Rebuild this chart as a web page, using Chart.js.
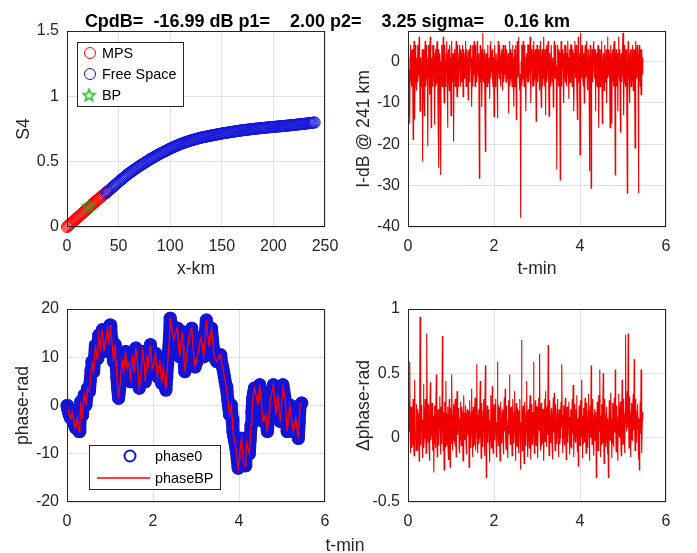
<!DOCTYPE html>
<html><head><meta charset="utf-8">
<script src="https://cdn.jsdelivr.net/npm/chart.js@4/dist/chart.umd.min.js"></script>
<style>
html,body{margin:0;padding:0;background:#fff;}
#wrap{position:relative;width:697px;height:553px;overflow:hidden;font-family:"Liberation Sans",Arial,sans-serif;}
canvas{position:absolute;left:0;top:0;}
#title{position:absolute;left:0;width:655px;top:11px;line-height:20px;text-align:center;font-weight:bold;font-size:18px;white-space:pre;color:#000;}
#tlabel{position:absolute;left:295px;width:100px;top:535px;line-height:20px;text-align:center;font-size:17.6px;color:#262626;}
</style></head><body>
<div id="wrap">
<canvas id="c1" width="697" height="553"></canvas>
<canvas id="c2" width="697" height="553"></canvas>
<canvas id="c3" width="697" height="553"></canvas>
<canvas id="c4" width="697" height="553"></canvas>
<div id="title">CpdB=  -16.99 dB p1=    2.00 p2=    3.25 sigma=    0.16 km</div>
<div id="tlabel">t-min</div>
</div>
<script>
// ---------- data ----------
const xKmTicks = [0,50,100,150,200,250];
const s4Ticks = [0,0.5,1,1.5];
const tTicks = [0,2,4,6];
const iDbTicks = [-40,-30,-20,-10,0];
const phaseTicks = [-20,-10,0,10,20];
const dPhaseTicks = [-0.5,0,0.5,1];

const mpsX = [0,1,2,3,4,5,6,7,8,9,10,11,12,13,14,15,16,17,18,19,20,21,22,23,24,25,26,27,28,29,30,31,32,33,34,35,36,37,38,39,40];
const mpsS4 = [0,0.007,0.014,0.021,0.028,0.035,0.042,0.049,0.056,0.063,0.070,0.077,0.084,0.091,0.098,0.105,0.112,0.119,0.126,0.133,
0.141,0.148,0.155,0.162,0.169,0.176,0.183,0.190,0.197,0.204,0.211,0.217,0.224,0.230,0.237,0.243,0.250,0.256,0.262,0.269,0.275];
const fsX = [38,39,40,41,42,43,44,45,46,47,48,49,50,51,52,53,54,55,56,57,
58,59,60,61,62,63,64,65,66,67,68,69,70,71,72,73,74,75,76,77,
78,79,80,81,82,83,84,85,86,87,88,89,90,91,92,93,94,95,96,97,
98,99,100,101,102,103,104,105,106,107,108,109,110,111,112,113,114,115,116,117,
118,119,120,121,122,123,124,125,126,127,128,129,130,131,132,133,134,135,136,137,
138,139,140,141,142,143,144,145,146,147,148,149,150,151,152,153,154,155,156,157,
158,159,160,161,162,163,164,165,166,167,168,169,170,171,172,173,174,175,176,177,
178,179,180,181,182,183,184,185,186,187,188,189,190,191,192,193,194,195,196,197,
198,199,200,201,202,203,204,205,206,207,208,209,210,211,212,213,214,215,216,217,
218,219,220,221,222,223,224,225,226,227,228,229,230,231,232,233,234,235,236,237,
238,239,240];
const fsS4 = [0.261,0.268,0.275,0.282,0.289,0.296,0.303,0.310,0.317,0.324,0.331,0.338,0.345,0.352,0.358,0.365,0.371,0.378,0.384,0.391,
0.397,0.404,0.410,0.416,0.421,0.427,0.432,0.438,0.443,0.449,0.454,0.460,0.465,0.470,0.475,0.480,0.485,0.490,0.495,0.500,
0.505,0.510,0.515,0.520,0.524,0.529,0.533,0.538,0.542,0.547,0.551,0.556,0.560,0.564,0.568,0.572,0.576,0.580,0.584,0.588,
0.592,0.596,0.600,0.604,0.607,0.611,0.614,0.618,0.621,0.625,0.628,0.632,0.635,0.638,0.640,0.643,0.646,0.649,0.651,0.654,
0.657,0.660,0.662,0.664,0.666,0.669,0.671,0.673,0.675,0.678,0.680,0.682,0.684,0.686,0.687,0.689,0.690,0.692,0.694,0.696,
0.697,0.699,0.700,0.702,0.703,0.705,0.706,0.708,0.709,0.711,0.712,0.714,0.715,0.717,0.718,0.719,0.720,0.722,0.723,0.724,
0.725,0.727,0.728,0.729,0.730,0.732,0.733,0.734,0.735,0.737,0.738,0.739,0.740,0.741,0.742,0.743,0.744,0.745,0.746,0.747,
0.748,0.749,0.750,0.751,0.752,0.753,0.753,0.754,0.755,0.756,0.756,0.757,0.758,0.759,0.760,0.761,0.761,0.762,0.763,0.764,
0.764,0.765,0.766,0.767,0.767,0.768,0.769,0.770,0.770,0.771,0.772,0.773,0.773,0.774,0.775,0.776,0.776,0.777,0.778,0.779,
0.779,0.780,0.781,0.782,0.783,0.784,0.785,0.786,0.786,0.787,0.788,0.789,0.790,0.791,0.792,0.793,0.794,0.795,0.796,0.797,
0.798,0.799,0.800];
const bpX = [21];
const bpS4 = [0.16];

// phase samples (every 0.02 min)
const tMin = [0,0.02,0.04,0.06,0.08,0.1,0.12,0.14,0.16,0.18,
0.2,0.22,0.24,0.26,0.28,0.3,0.32,0.34,0.36,0.38,
0.4,0.42,0.44,0.46,0.48,0.5,0.52,0.54,0.56,0.58,
0.6,0.62,0.64,0.66,0.68,0.7,0.72,0.74,0.76,0.78,
0.8,0.82,0.84,0.86,0.88,0.9,0.92,0.94,0.96,0.98,
1,1.02,1.04,1.06,1.08,1.1,1.12,1.14,1.16,1.18,
1.2,1.22,1.24,1.26,1.28,1.3,1.32,1.34,1.36,1.38,
1.4,1.42,1.44,1.46,1.48,1.5,1.52,1.54,1.56,1.58,
1.6,1.62,1.64,1.66,1.68,1.7,1.72,1.74,1.76,1.78,
1.8,1.82,1.84,1.86,1.88,1.9,1.92,1.94,1.96,1.98,
2,2.02,2.04,2.06,2.08,2.1,2.12,2.14,2.16,2.18,
2.2,2.22,2.24,2.26,2.28,2.3,2.32,2.34,2.36,2.38,
2.4,2.42,2.44,2.46,2.48,2.5,2.52,2.54,2.56,2.58,
2.6,2.62,2.64,2.66,2.68,2.7,2.72,2.74,2.76,2.78,
2.8,2.82,2.84,2.86,2.88,2.9,2.92,2.94,2.96,2.98,
3,3.02,3.04,3.06,3.08,3.1,3.12,3.14,3.16,3.18,
3.2,3.22,3.24,3.26,3.28,3.3,3.32,3.34,3.36,3.38,
3.4,3.42,3.44,3.46,3.48,3.5,3.52,3.54,3.56,3.58,
3.6,3.62,3.64,3.66,3.68,3.7,3.72,3.74,3.76,3.78,
3.8,3.82,3.84,3.86,3.88,3.9,3.92,3.94,3.96,3.98,
4,4.02,4.04,4.06,4.08,4.1,4.12,4.14,4.16,4.18,
4.2,4.22,4.24,4.26,4.28,4.3,4.32,4.34,4.36,4.38,
4.4,4.42,4.44,4.46,4.48,4.5,4.52,4.54,4.56,4.58,
4.6,4.62,4.64,4.66,4.68,4.7,4.72,4.74,4.76,4.78,
4.8,4.82,4.84,4.86,4.88,4.9,4.92,4.94,4.96,4.98,
5,5.02,5.04,5.06,5.08,5.1,5.12,5.14,5.16,5.18,
5.2,5.22,5.24,5.26,5.28,5.3,5.32,5.34,5.36,5.38,
5.4,5.42,5.44,5.46];

const phase0 = [0,-0.8,-1.5,-2.1,-2.6,-1.9,-1.3,-2.4,-3.5,-4.2,
-4.7,-3.6,-2.6,-4.1,-5.4,-3.5,0.8,-0.6,-2,0.1,
2.2,1.1,0.1,1.9,3.6,3.3,2.9,5.1,7.4,9.1,
8,7,9.8,12.5,11.1,9.7,12.2,14.6,13.2,11.9,
13.8,15.7,13.4,11.2,12.3,13.2,14.8,16,14.2,12.6,
16.7,15.2,13.9,11.5,9.1,10.9,12.6,9.1,5.7,3.4,
1.5,3.2,4.9,7.1,9.1,8,7,9.2,11.2,9.4,
7.7,8.5,9.1,7,4.9,7.8,10.5,8.7,7,9.5,
11.9,10.1,8.4,6,3.6,5,6.4,8.8,11.2,9.8,
8.4,4.9,7.7,10.5,9.4,8.4,10.5,12.6,10.1,7.7,
8.4,9.1,10,10.8,8.3,6,7.2,8.3,9.4,7,
4.6,6.3,8,6.4,4.8,3.2,6,8.7,11.2,13.6,
18.1,16.8,15.4,14.5,13.6,14.2,14.8,15.4,16,14,
12,10.1,11.8,13.6,15.3,12.5,9.7,7,8.5,10,
11.5,12.9,14.4,15.2,15.6,16,13.5,11,9.5,8,
8.9,9.8,10.6,11.4,12.6,13.4,14.1,12.8,11.4,10.1,
12.6,15.2,17.7,15.9,14,12.2,13.4,14.7,16,14,
12,10.1,9.8,9.5,9.1,9.5,9.9,10.2,10.5,9.6,
8.7,7.9,7,6,4.9,3.9,2.9,1.3,-0.3,-1.9,
-0.9,0.1,-2.7,-5.4,-6.4,-7.4,-8.5,-9.5,-11.3,-13,
-11.2,-9.5,-8.1,-6.8,-9.2,-11.6,-12,-12.5,-10.1,-7.7,
-8.5,-9.3,-10,-7,-4,-1.3,1.5,2.6,3.6,2.8,
2,1,0.1,2.2,4.3,2.4,0.5,-1.4,-3.3,-2.9,
-2.4,-2,-3.7,-5.4,-3.3,-1.2,0.8,1.7,2.5,3.4,
4.3,2.2,0.1,-1.9,0.1,2.2,0.4,-1.5,-3.3,-0.8,
1.7,4.3,3.1,2,0.8,-2.3,-5.4,-3.5,-1.7,0.1,
-1.3,-2.7,-4.1,-5.4,-4.5,-3.5,-2.6,-4,-5.4,-6.8,
-3.4,0.1,0.3,0.5];
const phaseBP = phase0.slice();

// intensity / delta-phase samples (every 0.01 min)
const tFine = [0,0.01,0.02,0.03,0.04,0.05,0.06,0.07,0.08,0.09,0.1,0.11,0.12,0.13,0.14,0.15,0.16,0.17,0.18,0.19,
0.2,0.21,0.22,0.23,0.24,0.25,0.26,0.27,0.28,0.29,0.3,0.31,0.32,0.33,0.34,0.35,0.36,0.37,0.38,0.39,
0.4,0.41,0.42,0.43,0.44,0.45,0.46,0.47,0.48,0.49,0.5,0.51,0.52,0.53,0.54,0.55,0.56,0.57,0.58,0.59,
0.6,0.61,0.62,0.63,0.64,0.65,0.66,0.67,0.68,0.69,0.7,0.71,0.72,0.73,0.74,0.75,0.76,0.77,0.78,0.79,
0.8,0.81,0.82,0.83,0.84,0.85,0.86,0.87,0.88,0.89,0.9,0.91,0.92,0.93,0.94,0.95,0.96,0.97,0.98,0.99,
1,1.01,1.02,1.03,1.04,1.05,1.06,1.07,1.08,1.09,1.1,1.11,1.12,1.13,1.14,1.15,1.16,1.17,1.18,1.19,
1.2,1.21,1.22,1.23,1.24,1.25,1.26,1.27,1.28,1.29,1.3,1.31,1.32,1.33,1.34,1.35,1.36,1.37,1.38,1.39,
1.4,1.41,1.42,1.43,1.44,1.45,1.46,1.47,1.48,1.49,1.5,1.51,1.52,1.53,1.54,1.55,1.56,1.57,1.58,1.59,
1.6,1.61,1.62,1.63,1.64,1.65,1.66,1.67,1.68,1.69,1.7,1.71,1.72,1.73,1.74,1.75,1.76,1.77,1.78,1.79,
1.8,1.81,1.82,1.83,1.84,1.85,1.86,1.87,1.88,1.89,1.9,1.91,1.92,1.93,1.94,1.95,1.96,1.97,1.98,1.99,
2,2.01,2.02,2.03,2.04,2.05,2.06,2.07,2.08,2.09,2.1,2.11,2.12,2.13,2.14,2.15,2.16,2.17,2.18,2.19,
2.2,2.21,2.22,2.23,2.24,2.25,2.26,2.27,2.28,2.29,2.3,2.31,2.32,2.33,2.34,2.35,2.36,2.37,2.38,2.39,
2.4,2.41,2.42,2.43,2.44,2.45,2.46,2.47,2.48,2.49,2.5,2.51,2.52,2.53,2.54,2.55,2.56,2.57,2.58,2.59,
2.6,2.61,2.62,2.63,2.64,2.65,2.66,2.67,2.68,2.69,2.7,2.71,2.72,2.73,2.74,2.75,2.76,2.77,2.78,2.79,
2.8,2.81,2.82,2.83,2.84,2.85,2.86,2.87,2.88,2.89,2.9,2.91,2.92,2.93,2.94,2.95,2.96,2.97,2.98,2.99,
3,3.01,3.02,3.03,3.04,3.05,3.06,3.07,3.08,3.09,3.1,3.11,3.12,3.13,3.14,3.15,3.16,3.17,3.18,3.19,
3.2,3.21,3.22,3.23,3.24,3.25,3.26,3.27,3.28,3.29,3.3,3.31,3.32,3.33,3.34,3.35,3.36,3.37,3.38,3.39,
3.4,3.41,3.42,3.43,3.44,3.45,3.46,3.47,3.48,3.49,3.5,3.51,3.52,3.53,3.54,3.55,3.56,3.57,3.58,3.59,
3.6,3.61,3.62,3.63,3.64,3.65,3.66,3.67,3.68,3.69,3.7,3.71,3.72,3.73,3.74,3.75,3.76,3.77,3.78,3.79,
3.8,3.81,3.82,3.83,3.84,3.85,3.86,3.87,3.88,3.89,3.9,3.91,3.92,3.93,3.94,3.95,3.96,3.97,3.98,3.99,
4,4.01,4.02,4.03,4.04,4.05,4.06,4.07,4.08,4.09,4.1,4.11,4.12,4.13,4.14,4.15,4.16,4.17,4.18,4.19,
4.2,4.21,4.22,4.23,4.24,4.25,4.26,4.27,4.28,4.29,4.3,4.31,4.32,4.33,4.34,4.35,4.36,4.37,4.38,4.39,
4.4,4.41,4.42,4.43,4.44,4.45,4.46,4.47,4.48,4.49,4.5,4.51,4.52,4.53,4.54,4.55,4.56,4.57,4.58,4.59,
4.6,4.61,4.62,4.63,4.64,4.65,4.66,4.67,4.68,4.69,4.7,4.71,4.72,4.73,4.74,4.75,4.76,4.77,4.78,4.79,
4.8,4.81,4.82,4.83,4.84,4.85,4.86,4.87,4.88,4.89,4.9,4.91,4.92,4.93,4.94,4.95,4.96,4.97,4.98,4.99,
5,5.01,5.02,5.03,5.04,5.05,5.06,5.07,5.08,5.09,5.1,5.11,5.12,5.13,5.14,5.15,5.16,5.17,5.18,5.19,
5.2,5.21,5.22,5.23,5.24,5.25,5.26,5.27,5.28,5.29,5.3,5.31,5.32,5.33,5.34,5.35,5.36,5.37,5.38,5.39,
5.4,5.41,5.42,5.43,5.44,5.45,5.46];

const iDb = [2,-3,-12.8,-2,-15,1,4,-4,-6,2,3,-5,-18.9,0,5,-3,-14,4,2,-6,
-7,1,4,-5,-3,3,6,-2,-12,0,1,-6,-5,3,-24.1,-1,3,-4,-13,2,
5,-6,-4,4,2,-3,-20.5,1,4,-2,-8,3,6,-5,-16,0,1,4,-6,-1,
4,-4,-15.3,2,3,-6,-5,4,5,-2,-14,3,-25.7,-3,2,-1,-27.4,0,4,-5,
-6,3,6,-3,-10,4,2,-6,-4,2,5,-4,-16,1,3,-5,-7,4,1,-2,
-13,5,4,-2,-5,2,-19.3,-4,2,3,-6,0,5,-5,-8.5,4,3,-6,-3,2,
4,-3,-6,3,2,-5,-4,4,-8.5,1,3,-4,-2,2,5,-6,-5,3,1,-3,
-9.3,2,3,-5,-4,4,2,-2,-10.9,1,4,-6,-3,3,5,-1,-6,4,2,-4,
-5,5,3,-3,-4,2,-28.2,-2,4,-5,-2,3,-11,1,7,-4,-5,2,3,-6,
-21.7,0,2,-3,-6,3,4,-5,-3,1,-9,4,5,-4,-2,2,3,-5,-6,1,
-13.3,3,4,-6,-3,2,2,-4,-13.7,0,5,-2,-4,4,1,-5,-6,2,3,-3,
-7,4,2,-5,-3,1,4,-2,-5,3,3,-4,-2,2,-12.5,-1,5,-6,-4,3,
2,-4,-6,2,4,-3,-10.9,1,3,-6,-5,4,-14,-2,5,-4,-3,3,6,-5,
-7,-3,-37.8,0,4,-6,-4,3,5,-2,-6,4,3,-5,-12,1,2,-3,-5,4,
4,-5,-3,2,6,-4,-10,3,2,-1,-6,4,5,-6,-4,2,3,-3,-14.4,0,
4,-2,-5,3,2,-4,-7,4,5,-3,-11,1,3,-6,-4,2,6,-2,-6,3,
-13,2,4,-5,-3,3,5,-4,-13.2,0,2,-3,-6,4,4,-5,-2,1,-11,-2,
5,-2,-4,4,3,-5,-26.1,-1,4,-3,-6,3,2,-4,-28.6,0,5,-6,-3,2,
3,-5,-10,2,4,-3,-5,4,2,-6,-3,3,5,-2,-9,1,3,-5,-4,4,
4,-3,-6,3,2,-5,-12,0,5,-2,-4,4,3,-6,-14,-1,6,-3,-5,2,
-22.5,2,7,-3,-4,4,3,-5,-6,2,-10,1,4,-4,-3,3,5,-6,-7,3,
2,-4,-26.5,0,4,-3,-30.6,-2,3,-5,-5,4,5,-2,-4,3,-12,-1,2,-5,
-6,2,4,-4,-16,1,3,-6,-5,3,5,-3,-15,0,2,-4,-7,3,4,-5,
-4,3,-10,1,6,-4,-3,3,2,-5,-16,0,4,-3,-15,2,3,-4,-6,4,
5,-5,-27.4,-1,3,-6,-4,2,-12,1,6,-3,-5,3,-17,0,2,-5,-3,4,
7,-2,-13,2,4,-5,-6,3,3,-4,-31.8,-1,5,-3,-4,2,-10,3,2,-6,
-5,3,4,-4,-7,2,3,-5,-20.9,0,5,-3,-4,4,2,-2,-31.8,1,4,-4,
-6,3,-8,2,3,-3,1];

const dPhase = [0.1,-0.06,0.28,0.05,0.59,0.12,-0.12,0.24,0.22,-0.08,-0.05,0.2,0.3,-0.02,-0.14,0.18,0.45,0.04,0.02,-0.1,
0.26,0.08,-0.1,0.22,0.18,0.0,-0.18,0.12,0.94,0.16,-0.06,0.25,0.24,-0.04,-0.16,0.14,0.42,-0.08,0.0,0.21,
0.3,0.02,-0.12,0.19,0.81,0.1,-0.04,0.26,0.2,-0.09,-0.18,0.14,0.43,-0.02,0.02,0.23,0.27,0.0,-0.1,0.17,
-0.27,0.06,0.25,-0.03,-0.08,0.21,0.49,0.08,-0.15,0.18,0.22,-0.06,0.0,0.15,0.32,0.03,-0.13,0.24,0.2,-0.05,
0.79,0.12,-0.1,0.2,-0.25,0.04,0.28,-0.07,0.44,0.1,-0.06,0.19,0.24,-0.03,-0.17,0.16,0.3,0.02,-0.23,0.22,
0.21,-0.05,0.49,0.07,-0.1,0.18,0.26,-0.02,-0.04,0.23,0.3,0.0,-0.15,0.13,0.36,0.05,0.02,0.2,0.23,-0.08,
-0.12,0.15,0.28,0.01,-0.06,0.24,0.2,-0.04,-0.18,0.12,0.33,0.06,-0.02,0.19,0.25,-0.07,-0.13,0.17,0.22,0.03,
0.02,0.21,-0.23,0.08,0.29,-0.02,-0.08,0.2,0.38,0.04,-0.15,0.16,0.24,-0.06,-0.05,0.22,0.31,0.0,-0.1,0.14,
0.57,0.06,-0.12,0.18,0.22,-0.05,0.0,0.23,0.44,0.03,-0.16,0.15,0.27,-0.03,-0.07,0.21,0.3,0.05,-0.14,0.19,
0.56,0.1,-0.31,0.0,0.25,0.07,-0.04,0.22,0.2,-0.06,-0.19,0.14,0.33,0.02,-0.08,0.2,0.4,-0.02,-0.12,0.16,
0.26,0.04,-0.02,0.19,0.3,-0.07,-0.15,0.12,0.59,0.08,-0.06,0.24,0.23,0.0,-0.18,0.15,0.28,-0.04,0.0,0.2,
0.22,-0.03,-0.13,0.17,0.31,0.05,0.38,0.0,-0.09,0.21,0.25,-0.06,-0.16,0.13,0.29,0.03,0.49,0.1,-0.05,0.22,
0.24,0.02,-0.14,0.18,0.3,-0.04,-0.02,0.2,0.36,0.06,-0.18,0.14,0.27,-0.05,-0.07,0.22,0.21,0.0,-0.12,0.16,
0.3,0.04,-0.25,0.12,0.76,0.08,-0.1,0.21,0.25,-0.03,-0.2,0.13,0.28,-0.06,-0.03,0.2,0.44,0.05,-0.15,0.18,
0.22,-0.02,-0.08,0.24,0.33,0.03,-0.17,0.15,0.26,-0.05,0.0,0.2,0.59,0.07,-0.12,0.17,0.29,0.0,-0.06,0.23,
0.24,0.01,-0.16,0.14,0.31,0.06,0.65,0.1,-0.1,0.19,0.27,-0.05,-0.04,0.22,0.22,0.0,-0.18,0.12,0.3,-0.03,
0.36,0.05,-0.07,0.2,0.25,0.02,0.72,0.11,-0.14,0.16,0.29,-0.04,-0.02,0.21,0.23,-0.06,-0.17,0.13,0.31,0.04,
0.35,0.07,-0.1,0.19,0.26,-0.03,-0.05,0.22,0.3,0.02,-0.15,0.15,0.22,-0.05,0.0,0.2,0.28,0.08,0.57,0.03,
-0.12,0.17,0.25,0.0,-0.06,0.21,0.31,0.04,-0.17,0.14,0.24,-0.04,-0.02,0.23,0.28,0.02,-0.13,0.16,0.22,-0.05,
-0.08,0.18,0.3,0.03,0.41,0.09,-0.15,0.2,0.26,-0.02,-0.04,0.22,0.33,0.05,-0.11,0.15,-0.22,0.1,0.25,-0.03,
-0.06,0.2,0.29,0.01,0.45,0.08,-0.16,0.17,0.23,-0.04,-0.03,0.24,0.31,0.03,-0.12,0.16,0.27,-0.02,-0.08,0.21,
0.34,0.06,-0.18,0.14,0.25,0.0,0.56,0.1,-0.05,0.23,0.3,-0.04,-0.14,0.18,0.22,-0.02,0.02,0.2,-0.31,0.08,
0.28,0.0,-0.1,0.21,0.33,0.05,0.53,0.1,-0.15,0.17,0.26,-0.05,-0.04,0.24,0.5,0.06,-0.2,0.13,0.3,-0.02,
-0.07,0.19,0.24,-0.03,-0.13,0.15,-0.31,0.05,0.29,0.0,-0.02,0.22,0.35,0.07,-0.16,0.14,0.27,-0.04,-0.06,0.23,
0.31,0.04,0.53,0.12,-0.11,0.2,0.25,-0.02,-0.18,0.16,0.34,0.03,0.0,0.22,0.28,-0.05,-0.14,0.18,0.45,0.06,
-0.05,0.21,0.3,0.02,-0.12,0.19,0.8,0.14,0.05,0.25,0.36,0.08,0.81,0.12,-0.08,0.22,0.32,0.04,-0.15,0.2,
0.27,-0.02,0.02,0.24,0.34,0.06,0.61,0.1,-0.1,0.18,0.3,-0.04,-0.04,0.21,0.26,0.0,-0.17,0.15,-0.25,0.09,
0.28,0.03,0.53,0.1,-0.12,0.15,0.2];

// ---------- style ----------
const FONT = "'Liberation Sans', Arial, Helvetica, sans-serif";
const AXC = '#262626', GRIDC = '#e0e0e0';
const RED = '#ff0000', LRED = '#f00000', BLUE = '#1414d8', GREEN = '#00b400';
Chart.defaults.font.family = FONT;

const pts = (xs, ys) => xs.map((x, i) => ({x: x, y: ys[i]}));

function makeStar(size, color){
  const c = document.createElement('canvas'); c.width = c.height = size;
  const g = c.getContext('2d');
  const cx = size/2, cy = size/2 + 0.6, R = size/2 - 1.2, r = R*0.4;
  g.beginPath();
  for (let k = 0; k < 10; k++){
    const ang = -Math.PI/2 + k*Math.PI/5, rr = (k % 2) ? r : R;
    g.lineTo(cx + rr*Math.cos(ang), cy + rr*Math.sin(ang));
  }
  g.closePath(); g.strokeStyle = color; g.lineWidth = 1.3; g.stroke();
  return c;
}
const starImg = makeStar(15, GREEN);

function axis(o){
  return {
    type:'linear', position:o.pos, min:o.min, max:o.max, bounds:'data',
    afterBuildTicks: s => { s.ticks = o.ticks.map(v => ({value:v})); },
    afterFit: s => { if (o.pos === 'left') s.width = o.size; else s.height = o.size; },
    grid:{color:GRIDC, lineWidth:1, drawTicks:false},
    border:{display:false},
    ticks:{color:AXC, font:{family:FONT, size:16}, padding:o.pad, autoSkip:false, maxRotation:0, callback: v => String(v)},
    title:{display:!!o.title, text:o.title || '', color:AXC, font:{family:FONT, size:17.6}, padding:0}
  };
}

const boxPlugin = {id:'axbox', afterDatasetsDraw(chart){
  const a = chart.chartArea, c = chart.ctx;
  c.save(); c.strokeStyle = AXC; c.lineWidth = 1;
  c.strokeRect(Math.round(a.left)+0.5, Math.round(a.top)+0.5, Math.round(a.right-a.left)-1, Math.round(a.bottom-a.top)-1);
  c.restore();
}};

function legendPlugin(L){ return {id:'lgd', afterDraw(chart){
  const c = chart.ctx; c.save();
  c.fillStyle = '#fff'; c.fillRect(L.x, L.y, L.w, L.h);
  c.strokeStyle = AXC; c.lineWidth = 1; c.strokeRect(L.x+0.5, L.y+0.5, L.w, L.h);
  c.font = '14.4px ' + FONT; c.textBaseline = 'middle'; c.textAlign = 'left';
  L.items.forEach(it => {
    const ds = chart.data.datasets[it.ds];
    c.strokeStyle = ds.pointBorderColor || ds.borderColor; c.lineWidth = it.lw;
    if (it.kind === 'circle'){ c.beginPath(); c.arc(it.mx, it.y, it.r, 0, Math.PI*2); c.stroke(); }
    else if (it.kind === 'star'){ c.drawImage(starImg, it.mx - starImg.width/2, it.y - starImg.height/2); }
    else { c.beginPath(); c.moveTo(it.x0, it.y); c.lineTo(it.x1, it.y); c.stroke(); }
    c.fillStyle = '#000'; c.fillText(ds.label, L.tx, it.y + 1);
  });
  c.restore();
}}; }

function base(pad){ return {responsive:false, animation:false, devicePixelRatio:1, events:[],
  layout:{padding:pad, autoPadding:true}, plugins:{legend:{display:false}, tooltip:{enabled:false}}}; }

function circ(color, r, w){ return {borderColor:color, backgroundColor:'rgba(0,0,0,0)', pointBorderColor:color,
  pointBackgroundColor:'rgba(0,0,0,0)', pointRadius:r, pointBorderWidth:w, borderWidth:w, pointStyle:'circle', clip:false}; }

// ---------- panel 1: S4 vs x-km ----------
new Chart(document.getElementById('c1'), {
  type:'scatter',
  data:{datasets:[
    Object.assign({label:'MPS', data:pts(mpsX, mpsS4), order:2}, circ(RED, 5.5, 1)),
    Object.assign({label:'Free Space', data:pts(fsX, fsS4), order:1}, circ(BLUE, 5.5, 1)),
    {label:'BP', data:pts(bpX, bpS4), order:0, borderColor:GREEN, pointStyle:starImg, pointRadius:7, clip:false}
  ]},
  options:Object.assign(base({left:14, top:31, right:372, bottom:273}), {scales:{
    x:axis({pos:'bottom', min:0, max:250, ticks:xKmTicks, size:53, pad:10, title:'x-km'}),
    y:axis({pos:'left', min:0, max:1.5, ticks:s4Ticks, size:53, pad:8, title:'S4'})
  }}),
  plugins:[boxPlugin, legendPlugin({x:77, y:42, w:106, h:64, tx:102, items:[
    {ds:0, kind:'circle', mx:90, y:53, r:5.5, lw:1},
    {ds:1, kind:'circle', mx:90, y:74, r:5.5, lw:1},
    {ds:2, kind:'star', mx:89, y:95, lw:1}
  ]})]
});

// ---------- panel 2: I-dB ----------
new Chart(document.getElementById('c2'), {
  type:'line',
  data:{datasets:[{label:'I-dB', data:pts(tFine, iDb), borderColor:LRED, borderWidth:1.1, pointRadius:0, tension:0, fill:false}]},
  options:Object.assign(base({left:354, top:31, right:31, bottom:273}), {scales:{
    x:axis({pos:'bottom', min:0, max:6, ticks:tTicks, size:53, pad:10, title:'t-min'}),
    y:axis({pos:'left', min:-40, max:7.4, ticks:iDbTicks, size:54, pad:8, title:'I-dB @ 241 km'})
  }}),
  plugins:[boxPlugin]
});

// ---------- panel 3: phase ----------
const phase0Style = Object.assign(circ(BLUE, 5.5, 2), {showLine:true, borderWidth:13, borderJoinStyle:'round', borderCapStyle:'round'});
new Chart(document.getElementById('c3'), {
  type:'line',
  data:{datasets:[
    Object.assign({label:'phase0', data:pts(tMin, phase0), order:1, tension:0, fill:false}, phase0Style),
    {label:'phaseBP', data:pts(tMin, phaseBP), borderColor:RED, borderWidth:1.3, pointRadius:0, tension:0, fill:false, order:0}
  ]},
  options:Object.assign(base({left:13, top:309, right:372, bottom:21}), {scales:{
    x:axis({pos:'bottom', min:0, max:6, ticks:tTicks, size:30, pad:10}),
    y:axis({pos:'left', min:-20, max:20, ticks:phaseTicks, size:54, pad:8, title:'phase-rad'})
  }}),
  plugins:[boxPlugin, legendPlugin({x:89, y:445, w:131, h:44, tx:155, items:[
    {ds:0, kind:'circle', mx:130, y:456, r:5.5, lw:2},
    {ds:1, kind:'line', x0:97, x1:150, y:478, lw:1.5}
  ]})]
});

// ---------- panel 4: delta phase ----------
new Chart(document.getElementById('c4'), {
  type:'line',
  data:{datasets:[{label:'\u0394phase', data:pts(tFine, dPhase), borderColor:LRED, borderWidth:1.1, pointRadius:0, tension:0, fill:false}]},
  options:Object.assign(base({left:354, top:309, right:31, bottom:21}), {scales:{
    x:axis({pos:'bottom', min:0, max:6, ticks:tTicks, size:30, pad:10}),
    y:axis({pos:'left', min:-0.5, max:1, ticks:dPhaseTicks, size:54, pad:8, title:'\u0394phase-rad'})
  }}),
  plugins:[boxPlugin]
});
</script>
</body></html>
